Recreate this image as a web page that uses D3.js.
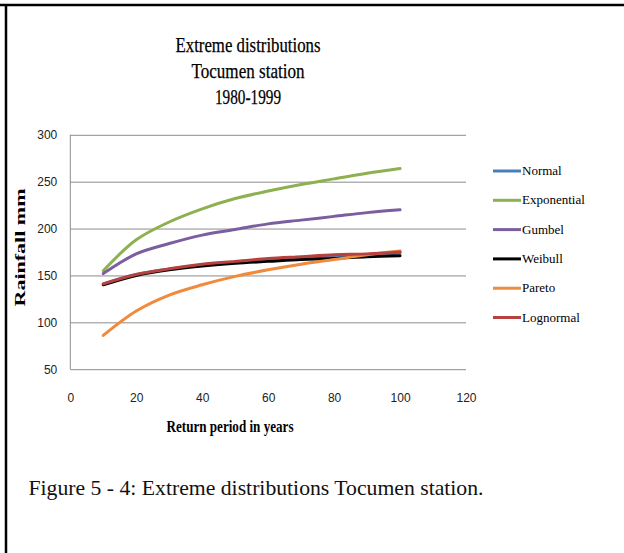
<!DOCTYPE html>
<html>
<head>
<meta charset="utf-8">
<script src="https://cdn.jsdelivr.net/npm/d3@7/dist/d3.min.js"></script>
<style>
  html, body { margin: 0; padding: 0; background: #fff; }
  svg { display: block; }
</style>
</head>
<body>
<svg id="chart" width="624" height="553"></svg>
<script>
// Return periods (years)
const returnPeriods = [10, 20, 30, 40, 50, 60, 70, 80, 90, 100];

// Rainfall (mm) per distribution
const normal      = [141, 151, 157, 161, 164, 167, 169, 171, 172, 174];
const exponential = [155, 188, 207, 221, 232, 240, 247, 253, 259, 264];
const gumbel      = [152, 173, 184, 193, 199, 205, 209, 213, 217, 220];
const weibull     = [140, 150, 156, 160, 163, 165, 167, 168, 170, 171];
const pareto      = [86, 112, 129, 140, 149, 156, 162, 167, 172, 176];
const lognormal   = [141, 151, 157, 162, 165, 168, 170, 172, 173, 175];

const seriesNames = ["Normal", "Exponential", "Gumbel", "Weibull", "Pareto", "Lognormal"];
const seriesColors = ["#4a7ebb", "#8db050", "#7b5ea0", "#000000", "#f08a3c", "#b5423f"];
const seriesValues = [normal, exponential, gumbel, weibull, pareto, lognormal];

const xTicks = [0, 20, 40, 60, 80, 100, 120];
const yTicks = [50, 100, 150, 200, 250, 300];

const titleLines = ["Extreme distributions", "Tocumen station", "1980-1999"];

const svg = d3.select("#chart");

// page frame
svg.append("line").attr("x1", 0).attr("x2", 624).attr("y1", 5).attr("y2", 5)
  .attr("stroke", "#000").attr("stroke-width", 2.5);
svg.append("line").attr("x1", 6).attr("x2", 6).attr("y1", 4).attr("y2", 553)
  .attr("stroke", "#000").attr("stroke-width", 2.5);

const x = d3.scaleLinear().domain([0, 120]).range([70.3, 466]);
const y = d3.scaleLinear().domain([50, 300]).range([369.2, 134.8]);

// horizontal gridlines
const grid = svg.append("g")
  .attr("transform", `translate(${x(0)},0)`)
  .call(d3.axisLeft(y).tickValues(yTicks).tickSize(-(x(120) - x(0))).tickFormat(""));
grid.select(".domain").remove();
grid.selectAll(".tick line").attr("stroke", "#8c8c8c").attr("stroke-width", 1);

// vertical axis line
svg.append("line")
  .attr("x1", x(0)).attr("x2", x(0)).attr("y1", y(300)).attr("y2", y(50))
  .attr("stroke", "#8c8c8c").attr("stroke-width", 1);

// y tick labels
const yAxis = svg.append("g")
  .attr("transform", `translate(${x(0)},0)`)
  .call(d3.axisLeft(y).tickValues(yTicks).tickSize(0).tickPadding(13));
yAxis.select(".domain").remove();
yAxis.selectAll("text")
  .attr("font-family", "Liberation Sans, Arial, sans-serif")
  .attr("font-size", 12).attr("fill", "#222");

// x tick labels
const xAxis = svg.append("g")
  .attr("transform", `translate(0,${y(50)})`)
  .call(d3.axisBottom(x).tickValues(xTicks).tickSize(0).tickPadding(24));
xAxis.select(".domain").remove();
xAxis.selectAll("text")
  .attr("font-family", "Liberation Sans, Arial, sans-serif")
  .attr("font-size", 12).attr("fill", "#222");

// series lines
const line = d3.line()
  .x((d, i) => x(returnPeriods[i]))
  .y(d => y(d))
  .curve(d3.curveCatmullRom.alpha(0.5));

svg.append("g").selectAll("path")
  .data(seriesValues)
  .join("path")
  .attr("d", d => line(d))
  .attr("fill", "none")
  .attr("stroke", (d, i) => seriesColors[i])
  .attr("stroke-width", 3)
  .attr("stroke-linecap", "round")
  .attr("stroke-linejoin", "round");

// legend
const legend = svg.append("g").attr("transform", "translate(493,171)");
const item = legend.selectAll("g")
  .data(seriesNames)
  .join("g")
  .attr("transform", (d, i) => `translate(0,${i * 29.3})`);
item.append("line")
  .attr("x1", 0).attr("x2", 28).attr("y1", 0).attr("y2", 0)
  .attr("stroke", (d, i) => seriesColors[i]).attr("stroke-width", 3);
item.append("text")
  .attr("x", 29).attr("y", 4)
  .attr("font-family", "Liberation Serif, Times New Roman, serif")
  .attr("font-size", 13).attr("fill", "#000")
  .text(d => d);

// title
svg.append("g").selectAll("text")
  .data(titleLines)
  .join("text")
  .attr("x", 248)
  .attr("y", (d, i) => 52 + i * 25.8)
  .attr("text-anchor", "middle")
  .attr("font-family", "Liberation Serif, Times New Roman, serif")
  .attr("font-size", 21)
  .attr("fill", "#000")
  .attr("stroke", "#000").attr("stroke-width", 0.25)
  .attr("textLength", (d, i) => [145, 113, 66][i])
  .attr("lengthAdjust", "spacingAndGlyphs")
  .text(d => d);

// axis titles
svg.append("text")
  .attr("x", 230).attr("y", 431.5)
  .attr("text-anchor", "middle")
  .attr("font-family", "Liberation Serif, Times New Roman, serif")
  .attr("font-weight", "bold")
  .attr("font-size", 17)
  .attr("fill", "#000")
  .attr("textLength", 127)
  .attr("lengthAdjust", "spacingAndGlyphs")
  .text("Return period in years");

svg.append("text")
  .attr("transform", "translate(24.5,247.5) rotate(-90) scale(1,0.72)")
  .attr("text-anchor", "middle")
  .attr("font-family", "Liberation Serif, Times New Roman, serif")
  .attr("font-weight", "bold")
  .attr("font-size", 19)
  .attr("fill", "#000")
  .attr("textLength", 118)
  .attr("lengthAdjust", "spacingAndGlyphs")
  .text("Rainfall mm");

// figure caption
svg.append("text")
  .attr("x", 28.5).attr("y", 495)
  .attr("font-family", "Liberation Serif, Times New Roman, serif")
  .attr("font-size", 21.5)
  .attr("fill", "#111")
  .attr("textLength", 455)
  .attr("lengthAdjust", "spacingAndGlyphs")
  .text("Figure 5 - 4: Extreme distributions Tocumen station.");
</script>
</body>
</html>
